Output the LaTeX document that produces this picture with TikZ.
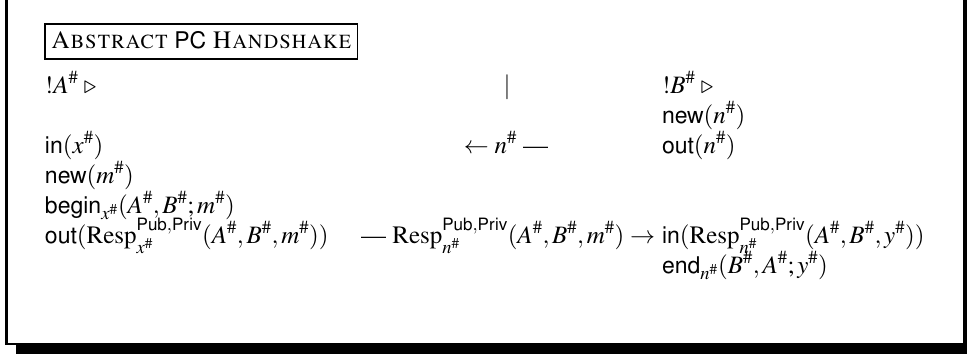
\documentclass[tikz,border=0pt]{standalone}
\usepackage[T1]{fontenc}
\usepackage{mathptmx}
\usepackage[scaled=0.92]{helvet}
\DeclareMathAlphabet{\mathsf}{T1}{phv}{m}{n}
\newcommand{\bigfs}{\fontsize{25}{30}\selectfont}
\newcommand{\hsh}{^{\#}}
\newcommand{\op}[1]{\textsf{#1}}
\begin{document}
\begin{tikzpicture}[x=1pt,y=-1pt,
  every node/.style={inner sep=0pt, outer sep=0pt, font=\bigfs},
  txt/.style={anchor=base west},
  titlebox/.style={draw, line width=1.3pt, anchor=base west, inner xsep=6pt, inner ysep=4pt, text height=20pt, text depth=7pt},
  shadowfill/.style={fill=black, draw=none}]
\useasboundingbox (0,0) rectangle (967,354);
% frame with shadow
\fill[shadowfill] (16,343) rectangle (967,354);
\fill[shadowfill] (963,0) rectangle (967,354);
\draw[line width=2.5pt] (6.5,0) -- (6.5,344) -- (964,344);
% title
\node[titlebox] (title) at (45,48) {\textsc{Abstract} \textsf{PC} \textsc{Handshake}};
% row 1
\node[txt] (a1) at (45,93) {$!A\hsh\;\triangleright$};
\node[anchor=base] (bar) at (507,93) {$|$};
\node[txt] (b1) at (662,93) {$!B\hsh\;\triangleright$};
% row 2
\node[txt] (b2) at (662,123) {\op{new}$(n\hsh)$};
% row 3
\node[txt] (a3) at (45,153) {\op{in}$(x\hsh)$};
\node[anchor=base] (m1) at (506,153) {$\leftarrow n\hsh$ ---};
\node[txt] (b3) at (662,153) {\op{out}$(n\hsh)$};
% row 4
\node[txt] (a4) at (45,183) {\op{new}$(m\hsh)$};
% row 5
\node[txt] (a5) at (45,213) {\op{begin}$_{x\hsh}(A\hsh,B\hsh;m\hsh)$};
% row 6
\node[txt] (a6) at (45,243) {\op{out}$(\mathrm{Resp}_{x\hsh}^{\mathsf{Pub,Priv}}(A\hsh,B\hsh,m\hsh))$};
\node[anchor=base east] (m2) at (655,243) {--- $\mathrm{Resp}_{n\hsh}^{\mathsf{Pub,Priv}}(A\hsh,B\hsh,m\hsh)\rightarrow$};
\node[txt] (b6) at (662,243) {\op{in}$(\mathrm{Resp}_{n\hsh}^{\mathsf{Pub,Priv}}(A\hsh,B\hsh,y\hsh))$};
% row 7
\node[txt] (b7) at (662,273) {\op{end}$_{n\hsh}(B\hsh,A\hsh;y\hsh)$};
\end{tikzpicture}
\end{document}
